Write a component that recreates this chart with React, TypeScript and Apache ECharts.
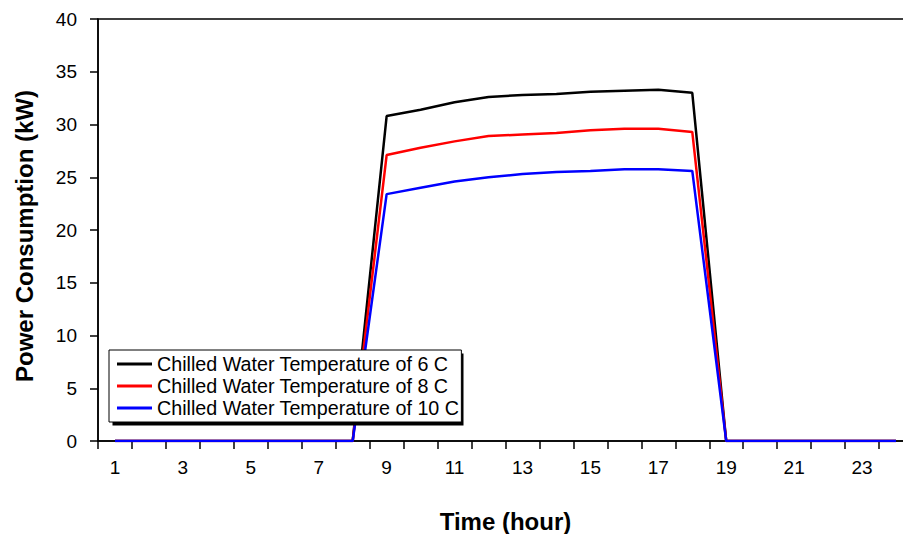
import React, { useEffect, useRef } from "react";
import * as echarts from "echarts";

const hours = ["1","2","3","4","5","6","7","8","9","10","11","12","13","14","15","16","17","18","19","20","21","22","23","24"];
const temp6C = [0,0,0,0,0,0,0,0,30.8,31.4,32.1,32.6,32.8,32.9,33.1,33.2,33.3,33.0,0,0,0,0,0,0];
const temp8C = [0,0,0,0,0,0,0,0,27.1,27.8,28.4,28.9,29.05,29.2,29.45,29.6,29.6,29.3,0,0,0,0,0,0];
const temp10C = [0,0,0,0,0,0,0,0,23.4,24.0,24.6,25.0,25.3,25.5,25.6,25.75,25.75,25.6,0,0,0,0,0,0];
const seriesNames = [
  "Chilled Water Temperature of 6 C",
  "Chilled Water Temperature of 8 C",
  "Chilled Water Temperature of 10 C",
];
const FONT = "'Liberation Sans', Arial, sans-serif";

export default function App() {
  const ref = useRef<HTMLDivElement>(null);
  useEffect(() => {
    if (!ref.current) return;
    const chart = echarts.init(ref.current, null, { renderer: "svg" });
    const mk = (name: string, data: number[], color: string) => ({
      name,
      type: "line",
      data,
      showSymbol: false,
      symbol: "none",
      lineStyle: { color, width: 2.5 },
      itemStyle: { color },
      z: 2,
    });
    chart.setOption({
      animation: false,
      backgroundColor: "#ffffff",
      textStyle: { fontFamily: FONT },
      grid: {
        left: 98,
        top: 19,
        bottom: 93,
        width: 815,
        containLabel: false,
        outerBoundsMode: "none",
        show: true,
        borderColor: "#000",
        borderWidth: 1.5,
      },
      xAxis: {
        type: "category",
        data: hours,
        boundaryGap: true,
        name: "Time (hour)",
        nameLocation: "middle",
        nameGap: 68,
        nameTextStyle: { fontFamily: FONT, fontSize: 24, fontWeight: "bold", color: "#000" },
        axisLine: { lineStyle: { color: "#000", width: 1.5 } },
        axisTick: { show: true, interval: 0, length: 8, lineStyle: { color: "#000", width: 1.5 } },
        axisLabel: { interval: 1, margin: 17, fontFamily: FONT, fontSize: 19, color: "#000" },
        splitLine: { show: false },
      },
      yAxis: {
        type: "value",
        min: 0,
        max: 40,
        interval: 5,
        name: "Power Consumption (kW)",
        nameLocation: "middle",
        nameRotate: 90,
        nameGap: 62,
        nameTextStyle: {
          fontFamily: FONT,
          fontSize: 24,
          fontWeight: "bold",
          color: "#000",
          padding: [0, 12, 0, 0],
        },
        axisLine: { show: true, lineStyle: { color: "#000", width: 1.5 } },
        axisTick: { show: true, length: 8, lineStyle: { color: "#000", width: 1.5 } },
        axisLabel: { margin: 21, fontFamily: FONT, fontSize: 19, color: "#000" },
        splitLine: { show: false },
      },
      legend: {
        orient: "vertical",
        left: 109,
        top: 350,
        data: seriesNames,
        icon: "rect",
        itemWidth: 35,
        itemHeight: 3,
        itemGap: 0,
        padding: [3, 2, 3, 8],
        backgroundColor: "#fff",
        borderColor: "#000",
        borderWidth: 1,
        textStyle: { fontFamily: FONT, fontSize: 19.7, color: "#000", lineHeight: 22 },
        z: 5,
      },
      graphic: [
        {
          type: "rect",
          shape: { x: 112.5, y: 353.5, width: 351, height: 72 },
          style: { fill: "#000" },
          z: 4,
          silent: true,
        },
      ],
      series: [
        mk(seriesNames[0], temp6C, "#000000"),
        mk(seriesNames[1], temp8C, "#ff0000"),
        mk(seriesNames[2], temp10C, "#0000ff"),
      ],
    });
    return () => chart.dispose();
  }, []);
  return (
    <div
      ref={ref}
      style={{ position: "fixed", left: 0, top: 0, width: 903, height: 534, background: "#fff" }}
    />
  );
}
